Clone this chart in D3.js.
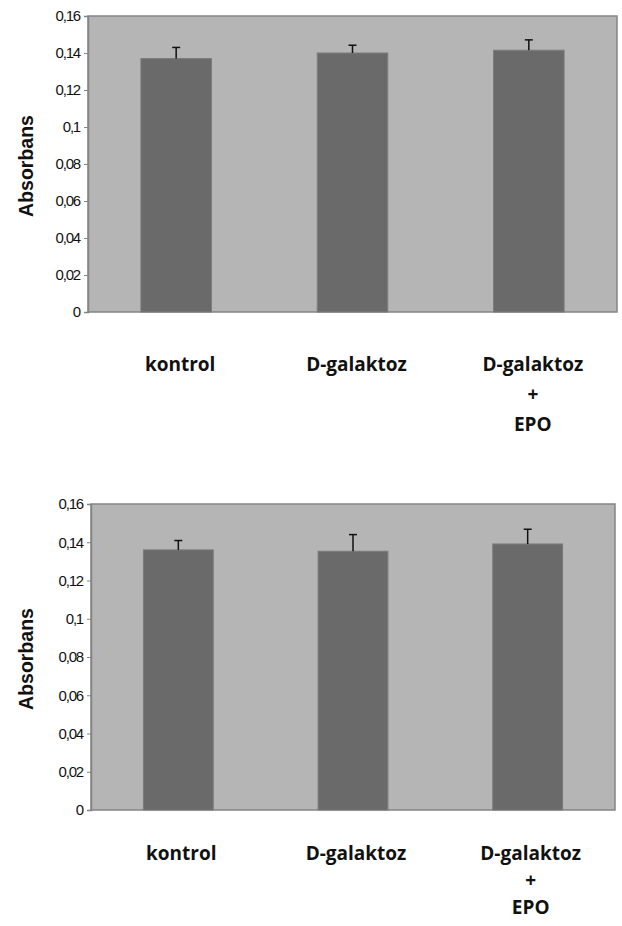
<!DOCTYPE html>
<html>
<head>
<meta charset="utf-8">
<script src="https://cdn.jsdelivr.net/npm/d3@7"></script>
<style>
  html, body { margin: 0; padding: 0; background: #fff; }
  svg { display: block; }
</style>
</head>
<body>
<script>
// ---- data ----
const categories = ["kontrol", "D-galaktoz", "D-galaktoz + EPO"];
const categoryLines = [["kontrol"], ["D-galaktoz"], ["D-galaktoz", "+", "EPO"]];
const chart1Values = [0.137, 0.140, 0.1415];
const chart1Errors = [0.006, 0.0042, 0.0056];
const chart2Values = [0.136, 0.1353, 0.1391];
const chart2Errors = [0.0049, 0.0087, 0.0077];
const yTickValues = [0, 0.02, 0.04, 0.06, 0.08, 0.1, 0.12, 0.14, 0.16];
const yTickLabels = ["0", "0,02", "0,04", "0,06", "0,08", "0,1", "0,12", "0,14", "0,16"];
const yAxisTitle = "Absorbans";

const W = 622, H = 926;
const svg = d3.select("body").append("svg").attr("width", W).attr("height", H);

function drawChart(values, errors, box) {
  const g = svg.append("g");
  const x = d3.scaleBand().domain(categories).range([box.left, box.right]).padding(0);
  const y = d3.scaleLinear().domain([0, 0.16]).range([box.bottom, box.top]);
  const barW = x.bandwidth() * 0.4;

  // plot area
  g.append("rect")
    .attr("x", box.left).attr("y", box.top)
    .attr("width", box.right - box.left).attr("height", box.bottom - box.top)
    .attr("fill", "#b5b5b5").attr("stroke", "#858585").attr("stroke-width", 1.5);

  // bars
  g.selectAll("rect.bar").data(values).join("rect")
    .attr("class", "bar")
    .attr("x", (d, i) => x(categories[i]) + x.bandwidth() / 2 - barW / 2)
    .attr("y", d => y(d))
    .attr("width", barW)
    .attr("height", d => y(0) - y(d))
    .attr("fill", "#6a6a6a").attr("stroke", "#7c7c7c").attr("stroke-width", 1);

  // error bars
  const eb = g.selectAll("g.err").data(values).join("g").attr("class", "err");
  eb.append("line")
    .attr("x1", (d, i) => x(categories[i]) + x.bandwidth() / 2)
    .attr("x2", (d, i) => x(categories[i]) + x.bandwidth() / 2)
    .attr("y1", d => y(d))
    .attr("y2", (d, i) => y(d + errors[i]))
    .attr("stroke", "#111").attr("stroke-width", 1.5);
  eb.append("line")
    .attr("x1", (d, i) => x(categories[i]) + x.bandwidth() / 2 - 4)
    .attr("x2", (d, i) => x(categories[i]) + x.bandwidth() / 2 + 4)
    .attr("y1", (d, i) => y(d + errors[i]))
    .attr("y2", (d, i) => y(d + errors[i]))
    .attr("stroke", "#111").attr("stroke-width", 1.5);

  // y axis
  const axis = d3.axisLeft(y).tickValues(yTickValues)
    .tickFormat((d, i) => yTickLabels[i]).tickSize(4).tickPadding(4);
  const ag = g.append("g").attr("transform", `translate(${box.left},0)`).call(axis);
  ag.select(".domain").attr("stroke", "#858585").attr("stroke-width", 1.5);
  ag.selectAll(".tick line").attr("stroke", "#858585");
  ag.selectAll(".tick text")
    .attr("fill", "#111")
    .style("font-family", "'Liberation Sans', Arial, sans-serif")
    .style("font-size", "15px")
    .style("letter-spacing", "-1.2px");

  // y axis title
  g.append("text")
    .attr("transform", `translate(${box.titleX},${(box.top + box.bottom) / 2 + 2}) rotate(-90)`)
    .attr("text-anchor", "middle")
    .attr("dy", "0.35em")
    .style("font-family", "'Liberation Sans', Arial, sans-serif")
    .style("font-weight", "bold")
    .style("font-size", "19.5px")
    .attr("fill", "#111")
    .text(yAxisTitle);

  // category labels
  categoryLines.forEach((lines, i) => {
    const t = g.append("text")
      .attr("text-anchor", "middle")
      .style("font-family", "'Open Sans', 'Noto Sans', sans-serif")
      .style("font-weight", "bold")
      .style("font-size", "19px")
      .attr("fill", "#111");
    lines.forEach((ln, j) => {
      t.append("tspan")
        .attr("x", x(categories[i]) + x.bandwidth() / 2 + box.labelShift)
        .attr("y", box.labelY + j * box.lineGap)
        .text(ln);
    });
  });
}

drawChart(chart1Values, chart1Errors,
  { left: 88, top: 16, right: 617, bottom: 312, titleX: 26, labelY: 371, lineGap: 30, labelShift: 4 });
drawChart(chart2Values, chart2Errors,
  { left: 91, top: 504, right: 615, bottom: 810, titleX: 26, labelY: 860, lineGap: 27, labelShift: 3 });
</script>
</body>
</html>
